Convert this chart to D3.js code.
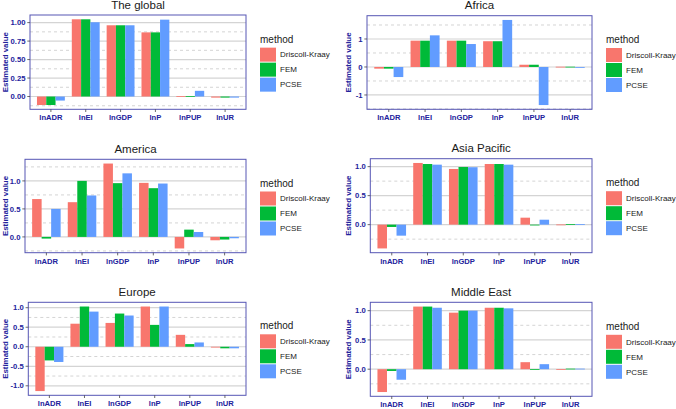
<!DOCTYPE html>
<html>
<head>
<meta charset="utf-8">
<script src="https://cdn.jsdelivr.net/npm/d3@7"></script>
<style>
  html, body { margin: 0; padding: 0; background: #fff; }
  svg { display: block; font-family: "Liberation Sans", Arial, sans-serif; }
</style>
</head>
<body>
<svg id="chart" width="676" height="409"></svg>
<script>
// ---------- data ----------
const categories = ["lnADR", "lnEI", "lnGDP", "lnP", "lnPUP", "lnUR"];
const methods = ["Driscoll-Kraay", "FEM", "PCSE"];
const regions = ["The global", "Africa", "America", "Asia Pacific", "Europe", "Middle East"];

// values per method, in category order
const globalDK   = [-0.115, 1.045, 0.964, 0.868, 0.005, -0.015];
const globalFEM  = [-0.115, 1.045, 0.964, 0.868, 0.005, -0.015];
const globalPCSE = [-0.055, 1.005, 0.964, 1.040, 0.077, -0.015];

const africaDK   = [-0.06, 0.94, 0.94, 0.92, 0.08, 0.01];
const africaFEM  = [-0.06, 0.94, 0.94, 0.92, 0.08, 0.01];
const africaPCSE = [-0.36, 1.13, 0.82, 1.68, -1.36, -0.03];

const americaDK   = [0.676, 0.62, 1.31, 0.965, -0.206, -0.06];
const americaFEM  = [-0.03, 1.00, 0.96, 0.87, 0.13, -0.047];
const americaPCSE = [0.50, 0.74, 1.135, 0.953, 0.088, -0.024];

const asiaDK   = [-0.41, 1.063, 0.96, 1.045, 0.12, 0.003];
const asiaFEM  = [-0.04, 1.045, 0.994, 1.045, -0.01, 0.01];
const asiaPCSE = [-0.19, 1.034, 0.99, 1.034, 0.085, 0.008];

const europeDK   = [-1.135, 0.59, 0.61, 1.03, 0.305, 0.0];
const europeFEM  = [-0.35, 1.03, 0.85, 0.56, 0.068, -0.04];
const europePCSE = [-0.39, 0.90, 0.80, 1.03, 0.11, -0.04];

const middleDK   = [-0.39, 1.07, 0.966, 1.05, 0.12, 0.0];
const middleFEM  = [-0.03, 1.07, 1.00, 1.05, -0.01, 0.01];
const middlePCSE = [-0.18, 1.05, 1.00, 1.04, 0.086, 0.01];

const regionValues = [
  [globalDK, globalFEM, globalPCSE],
  [africaDK, africaFEM, africaPCSE],
  [americaDK, americaFEM, americaPCSE],
  [asiaDK, asiaFEM, asiaPCSE],
  [europeDK, europeFEM, europePCSE],
  [middleDK, middleFEM, middlePCSE]
];

// y tick values and labels per panel
const yTicks = [
  [0, 0.25, 0.5, 0.75, 1.0],
  [-1, 0, 1],
  [0, 0.5, 1.0],
  [0, 0.5, 1.0],
  [-1.0, -0.5, 0, 0.5, 1.0],
  [0, 0.5, 1.0]
];
const yTickLabels = [
  ["0.00", "0.25", "0.50", "0.75", "1.00"],
  ["-1", "0", "1"],
  ["0.0", "0.5", "1.0"],
  ["0.0", "0.5", "1.0"],
  ["-1.0", "-0.5", "0.0", "0.5", "1.0"],
  ["0.0", "0.5", "1.0"]
];

const colors = ["#F8766D", "#00BA38", "#619CFF"];

// ---------- layout ----------
const layout = [
  {l: 30,    t: 15,    r: 246, b: 109.3, yTitleX: 5.5},
  {l: 367,   t: 15.7,  r: 592, b: 109.3, yTitleX: 348.5},
  {l: 25,    t: 159.3, r: 246, b: 252.7, yTitleX: 5.5},
  {l: 370.3, t: 158.7, r: 592, b: 252.7, yTitleX: 348.5},
  {l: 28.3,  t: 302.3, r: 246, b: 395.3, yTitleX: 5.5},
  {l: 370.3, t: 302.3, r: 592, b: 396.3, yTitleX: 348.5}
];

const textBlue = "#22229C";
const borderBlue = "#5656B4";

const svg = d3.select("#chart");
svg.append("rect").attr("width", 676).attr("height", 409).attr("fill", "#fff");

regions.forEach((region, pi) => {
  const L = layout[pi];
  const vals = regionValues[pi];
  const g = svg.append("g");

  // y domain with 5% expansion
  const all = vals.flat().concat([0]);
  const lo = d3.min(all), hi = d3.max(all);
  const pad = (hi - lo) * 0.05;
  const y = d3.scaleLinear().domain([lo - pad, hi + pad]).range([L.b, L.t]);

  const x = d3.scaleBand().domain(categories).range([L.l, L.r])
    .paddingInner(0.2).paddingOuter(0.2);
  const xm = d3.scaleBand().domain(methods).range([0, x.bandwidth()]);

  // gridlines: minor (dashed) and major (solid)
  const major = yTicks[pi];
  const stepMaj = major[1] - major[0];
  const minor = [];
  const dom = y.domain();
  for (let k = Math.floor(dom[0] / stepMaj) - 1; k <= Math.ceil(dom[1] / stepMaj) + 1; k++) {
    const v = (k + 0.5) * stepMaj;
    if (v > dom[0] && v < dom[1]) minor.push(v);
  }
  g.selectAll(".minor").data(minor).enter().append("line")
    .attr("x1", L.l).attr("x2", L.r)
    .attr("y1", d => y(d)).attr("y2", d => y(d))
    .attr("stroke", "#c9c9c9").attr("stroke-width", 0.8)
    .attr("stroke-dasharray", "3,3");
  g.selectAll(".major").data(major).enter().append("line")
    .attr("x1", L.l).attr("x2", L.r)
    .attr("y1", d => y(d)).attr("y2", d => y(d))
    .attr("stroke", "#d4d4d4").attr("stroke-width", 1.2);

  // bars
  methods.forEach((m, mi) => {
    g.selectAll(".bar" + mi).data(categories).enter().append("rect")
      .attr("x", c => x(c) + xm(m))
      .attr("width", xm.bandwidth())
      .attr("y", (c, ci) => y(Math.max(0, vals[mi][ci])))
      .attr("height", (c, ci) => Math.max(0.8, Math.abs(y(vals[mi][ci]) - y(0))))
      .attr("fill", colors[mi]);
  });

  // border
  g.append("rect").attr("x", L.l).attr("y", L.t)
    .attr("width", L.r - L.l).attr("height", L.b - L.t)
    .attr("fill", "none").attr("stroke", borderBlue).attr("stroke-width", 1);

  // y axis ticks & labels
  g.selectAll(".ytick").data(major).enter().append("line")
    .attr("x1", L.l - 2.7).attr("x2", L.l)
    .attr("y1", d => y(d)).attr("y2", d => y(d))
    .attr("stroke", "#444").attr("stroke-width", 0.8);
  g.selectAll(".ylab").data(major).enter().append("text")
    .attr("x", L.l - 4.5).attr("y", d => y(d))
    .attr("dy", "0.35em").attr("text-anchor", "end")
    .attr("font-size", 7.7).attr("font-weight", "bold").attr("fill", textBlue)
    .text((d, i) => yTickLabels[pi][i]);

  // x axis ticks & labels
  g.selectAll(".xtick").data(categories).enter().append("line")
    .attr("x1", c => x(c) + x.bandwidth() / 2).attr("x2", c => x(c) + x.bandwidth() / 2)
    .attr("y1", L.b).attr("y2", L.b + 2.7)
    .attr("stroke", "#444").attr("stroke-width", 0.8);
  g.selectAll(".xlab").data(categories).enter().append("text")
    .attr("x", c => x(c) + x.bandwidth() / 2).attr("y", L.b + 11)
    .attr("text-anchor", "middle")
    .attr("font-size", 7.6).attr("font-weight", "bold").attr("fill", textBlue)
    .text(c => c);

  // y axis title
  const cy = (L.t + L.b) / 2;
  g.append("text")
    .attr("transform", `translate(${L.yTitleX},${cy}) rotate(-90)`)
    .attr("dy", "0.35em").attr("text-anchor", "middle")
    .attr("font-size", 7.9).attr("font-weight", "bold").attr("fill", textBlue)
    .text("Estimated value");

  // panel title
  g.append("text")
    .attr("x", (L.l + L.r) / 2).attr("y", L.t - 6.5)
    .attr("text-anchor", "middle")
    .attr("font-size", 11.5).attr("fill", "#1a1a1a")
    .text(region);

  // legend
  const keyX = L.r + 14;
  const keyTop = cy - 15;
  g.append("text")
    .attr("x", keyX).attr("y", keyTop - 4.5)
    .attr("font-size", 10).attr("fill", "#1a1a1a")
    .text("method");
  methods.forEach((m, mi) => {
    g.append("rect")
      .attr("x", keyX).attr("y", keyTop + mi * 15 + 0.5)
      .attr("width", 16).attr("height", 14)
      .attr("fill", colors[mi]);
    g.append("text")
      .attr("x", keyX + 20).attr("y", keyTop + mi * 15 + 7.5)
      .attr("dy", "0.35em")
      .attr("font-size", 8).attr("fill", "#1a1a1a")
      .text(m);
  });
});
</script>
</body>
</html>
